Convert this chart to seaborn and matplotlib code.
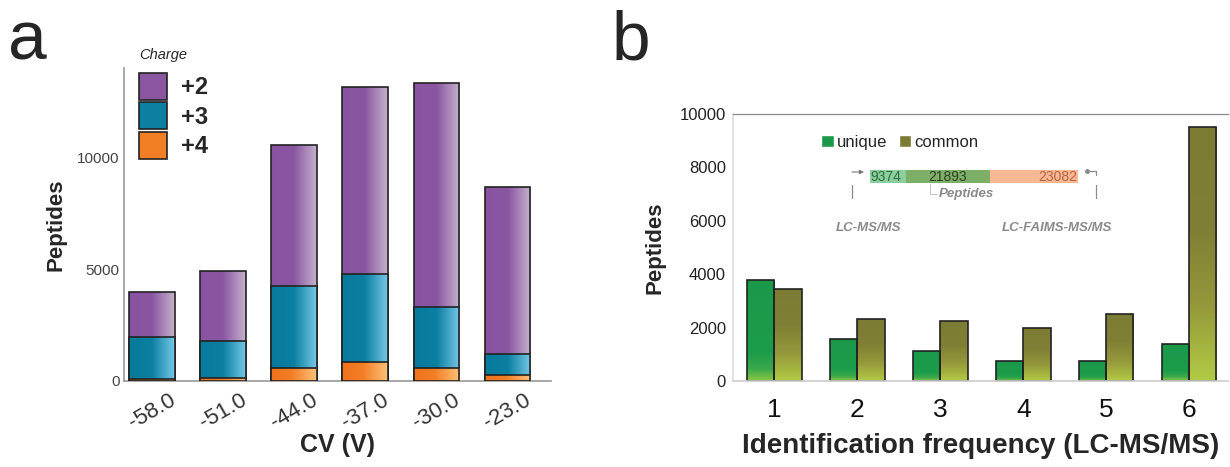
import numpy as np
import pandas as pd
import matplotlib
matplotlib.use("Agg")
import matplotlib.pyplot as plt
import seaborn as sns
from matplotlib.colors import LinearSegmentedColormap
from matplotlib.patches import Patch
from matplotlib.lines import Line2D

# ---------------- data ----------------
cv_labels = ["-58.0", "-51.0", "-44.0", "-37.0", "-30.0", "-23.0"]
charge2 = [2040, 3120, 6290, 8370, 10000, 7460]
charge3 = [1855, 1640, 3660, 3950, 2760, 930]
charge4 = [105, 150, 600, 850, 570, 270]
charge_labels = ["+2", "+3", "+4"]

freq_labels = ["1", "2", "3", "4", "5", "6"]
unique_counts = [3780, 1580, 1130, 740, 740, 1404]
common_counts = [3460, 2310, 2250, 1970, 2510, 9520]
group_labels = ["unique", "common"]

overlap_counts = [9374, 21893, 23082]
overlap_names = ["LC-MS/MS", "LC-FAIMS-MS/MS"]

# ---------------- style ----------------
sns.set_theme(style="white")
plt.rcParams["font.family"] = ["Liberation Sans", "DejaVu Sans"]

fig = plt.figure(figsize=(12.3, 4.67), dpi=100)
W, H = 1230, 467


def px_box(left, right, top, bottom):
    return [left / W, (H - bottom) / H, (right - left) / W, (bottom - top) / H]


ax_a = fig.add_axes(px_box(124, 551, 68, 381))
ax_b = fig.add_axes(px_box(733, 1228, 114, 381))

purple_cm = LinearSegmentedColormap.from_list(
    "p", [(0, "#8953A1"), (0.5, "#8A56A2"), (1, "#C6B2CD")])
teal_cm = LinearSegmentedColormap.from_list(
    "t", [(0, "#087A9B"), (0.5, "#0C80A1"), (1, "#76C8E8")])
orange_cm = LinearSegmentedColormap.from_list(
    "o", [(0, "#EF721C"), (0.45, "#F27E26"), (1, "#FEC27A")])
unique_cm = LinearSegmentedColormap.from_list(
    "u", [(0, "#8DC843"), (0.12, "#3AA84B"), (0.28, "#1C9D4B"), (1, "#1A994A")])
common_cm = LinearSegmentedColormap.from_list(
    "c", [(0, "#B2CB45"), (0.3, "#94983A"), (0.6, "#7F7F35"), (1, "#7C7C34")])


def shade_bars(ax, patches, cmap, horizontal, base_z):
    """Replace the flat face of each bar with a gradient clipped to the bar."""
    for p in patches:
        x0, y0 = p.get_x(), p.get_y()
        w, h = p.get_width(), p.get_height()
        if h <= 0:
            continue
        if horizontal:
            grad = np.linspace(0, 1, 256).reshape(1, -1)
        else:
            grad = np.linspace(0, 1, 256).reshape(-1, 1)
        im = ax.imshow(grad, cmap=cmap, extent=(x0, x0 + w, y0, y0 + h),
                       origin="lower", aspect="auto", zorder=base_z,
                       interpolation="bilinear")
        im.set_clip_path(p)
        p.set_facecolor("none")
        p.set_zorder(base_z + 0.5)


# ---------------- panel a: stacked charge states ----------------
cum4 = np.array(charge4)
cum3 = cum4 + np.array(charge3)
cum2 = cum3 + np.array(charge2)

layers = [(cum2, "#8A56A2", purple_cm), (cum3, "#0C80A1", teal_cm),
          (cum4, "#F27E26", orange_cm)]
for i, (vals, col, cm) in enumerate(layers):
    n_before = len(ax_a.patches)
    sns.barplot(x=cv_labels, y=vals, color=col, saturation=1, width=0.64,
                edgecolor="#222222", linewidth=1.2, errorbar=None, ax=ax_a)
    shade_bars(ax_a, ax_a.patches[n_before:], cm, True, 2 + i)

ax_a.set_xlim(-0.39, 5.61)
ax_a.set_ylim(0, 14000)
ax_a.set_yticks([0, 5000, 10000])
ax_a.set_yticklabels(["0", "5000", "10000"])
ax_a.tick_params(axis="y", labelsize=11, labelcolor="#444444", length=2,
                 color="#999999", pad=1)
ax_a.tick_params(axis="x", labelsize=16, labelcolor="#333333", length=2,
                 color="#666666", pad=4)
for lbl in ax_a.get_xticklabels():
    lbl.set_rotation(30)
    lbl.set_ha("center")
for s in ["top", "right"]:
    ax_a.spines[s].set_visible(False)
for s in ["left", "bottom"]:
    ax_a.spines[s].set_color("#999999")
    ax_a.spines[s].set_linewidth(1.2)
ax_a.set_xlabel("CV (V)", fontsize=18, fontweight="bold", labelpad=0)
ax_a.set_ylabel("Peptides", fontsize=16, fontweight="bold", labelpad=8)

handles_a = [Patch(facecolor=c, edgecolor="#222222", linewidth=1.2)
             for c in ["#8A56A2", "#0C80A1", "#F27E26"]]
leg_a = ax_a.legend(handles_a, charge_labels, title="Charge",
                    loc="upper left", bbox_to_anchor=(139 / W, (H - 48) / H),
                    bbox_transform=fig.transFigure, frameon=False,
                    borderpad=0, borderaxespad=0, handlelength=1.2,
                    handleheight=1.38, handletextpad=0.6, labelspacing=0.1,
                    prop={"weight": "bold", "size": 17},
                    title_fontproperties={"style": "italic", "size": 10.5})
leg_a._legend_box.align = "left"
leg_a._legend_box.sep = 8

# ---------------- panel b: identification frequency ----------------
df_b = pd.DataFrame({
    "freq": freq_labels * 2,
    "group": [group_labels[0]] * 6 + [group_labels[1]] * 6,
    "count": unique_counts + common_counts,
})
sns.barplot(data=df_b, x="freq", y="count", hue="group",
            hue_order=group_labels, order=freq_labels,
            palette={"unique": "#1A994A", "common": "#7C7C34"},
            saturation=1, width=0.66, gap=0, edgecolor="#222222",
            linewidth=1.2, errorbar=None, legend=False, ax=ax_b)
shade_bars(ax_b, list(ax_b.containers[0]), unique_cm, False, 2)
shade_bars(ax_b, list(ax_b.containers[1]), common_cm, False, 2)

ax_b.set_xlim(-0.5, 5.47)
ax_b.set_ylim(0, 10000)
ax_b.set_yticks(range(0, 10001, 2000))
ax_b.set_yticklabels([str(v) for v in range(0, 10001, 2000)])
ax_b.tick_params(axis="y", labelsize=12, labelcolor="#222222", length=3,
                 color="#888888", pad=2)
ax_b.tick_params(axis="x", labelsize=19, labelcolor="#111111", length=0,
                 pad=12)
ax_b.spines["right"].set_visible(False)
ax_b.spines["top"].set_color("#8a8a8a")
ax_b.spines["top"].set_linewidth(0.9)
ax_b.spines["left"].set_color("#dddddd")
ax_b.spines["left"].set_linewidth(1.2)
ax_b.spines["bottom"].set_color("#cccccc")
ax_b.spines["bottom"].set_linewidth(1.2)
ax_b.set_xlabel("Identification frequency (LC-MS/MS)", fontsize=20,
                fontweight="bold", labelpad=8)
ax_b.set_ylabel("Peptides", fontsize=16, fontweight="bold", labelpad=10)

handles_b = [Patch(facecolor="#1A994A"), Patch(facecolor="#7C7C34")]
ax_b.legend(handles_b, group_labels, loc="center left",
            bbox_to_anchor=((821 - 733) / 495, (381 - 142) / 267),
            frameon=False, ncol=2, borderpad=0, borderaxespad=0,
            handlelength=0.75, handleheight=0.75, handletextpad=0.2,
            columnspacing=0.7, prop={"size": 12})


def fx(px):
    return (px - 733) / 495


def fy(py):
    return (381 - py) / 267


# overlap strip between the two methods
ax_in = ax_b.inset_axes([fx(870), fy(183), 208 / 495, 13 / 267])
seg_colors = ["#8CCF9E", "#7DAF68", "#F8B894"]
lefts = np.concatenate([[0], np.cumsum(overlap_counts)[:-1]])
ax_in.barh([0, 0, 0], overlap_counts, left=lefts, height=1.0,
           color=seg_colors, edgecolor="none")
ax_in.set_xlim(0, sum(overlap_counts))
ax_in.set_ylim(-0.5, 0.5)
ax_in.axis("off")
txt_colors = ["#2F6B3C", "#2E3F22", "#B8653E"]
ax_in.text(lefts[0] + 150, 0, f"{overlap_counts[0]}", ha="left", va="center",
           fontsize=10, color=txt_colors[0])
ax_in.text(lefts[1] + overlap_counts[1] / 2, 0, f"{overlap_counts[1]}",
           ha="center", va="center", fontsize=10, color=txt_colors[1])
ax_in.text(lefts[2] + overlap_counts[2] - 250, 0, f"{overlap_counts[2]}",
           ha="right", va="center", fontsize=10, color=txt_colors[2])

line_kw = dict(transform=ax_b.transAxes, color="#8a8a8a", lw=0.9,
               clip_on=False)
ax_b.annotate("", xy=(fx(864), fy(172)), xytext=(fx(852), fy(172)),
              xycoords="axes fraction", textcoords="axes fraction",
              arrowprops=dict(arrowstyle="-|>", color="#777777", lw=0.8,
                              mutation_scale=6, shrinkA=0, shrinkB=0))
ax_b.add_line(Line2D([fx(852), fx(852)], [fy(185), fy(198)], **line_kw))
ax_b.add_line(Line2D([fx(1087), fx(1096), fx(1096)],
                     [fy(171), fy(171), fy(175)], **line_kw))
ax_b.plot([fx(1087)], [fy(171)], "o", ms=2.5, color="#8a8a8a",
          transform=ax_b.transAxes, clip_on=False)
ax_b.add_line(Line2D([fx(1096), fx(1096)], [fy(185), fy(198)], **line_kw))
ax_b.add_line(Line2D([fx(930), fx(930), fx(937)], [fy(184), fy(194), fy(194)],
                     transform=ax_b.transAxes, color="#c8c8c8", lw=0.8,
                     clip_on=False))
ax_b.text(fx(939), fy(194), "Peptides", transform=ax_b.transAxes,
          ha="left", va="center", fontsize=9.5, style="italic",
          fontweight="bold", color="#8a8a8a")
ax_b.text(fx(869), fy(228), overlap_names[0], transform=ax_b.transAxes,
          ha="center", va="center", fontsize=9.5, style="italic",
          fontweight="bold", color="#8a8a8a")
ax_b.text(fx(1057), fy(228), overlap_names[1], transform=ax_b.transAxes,
          ha="center", va="center", fontsize=9.5, style="italic",
          fontweight="bold", color="#8a8a8a")

# panel letters
fig.text(8 / W, (H - 59) / H, "a", fontsize=50, va="baseline", ha="left")
fig.text(612 / W, (H - 59) / H, "b", fontsize=50, va="baseline", ha="left")

fig.savefig("out.png", dpi=100, facecolor="white")
